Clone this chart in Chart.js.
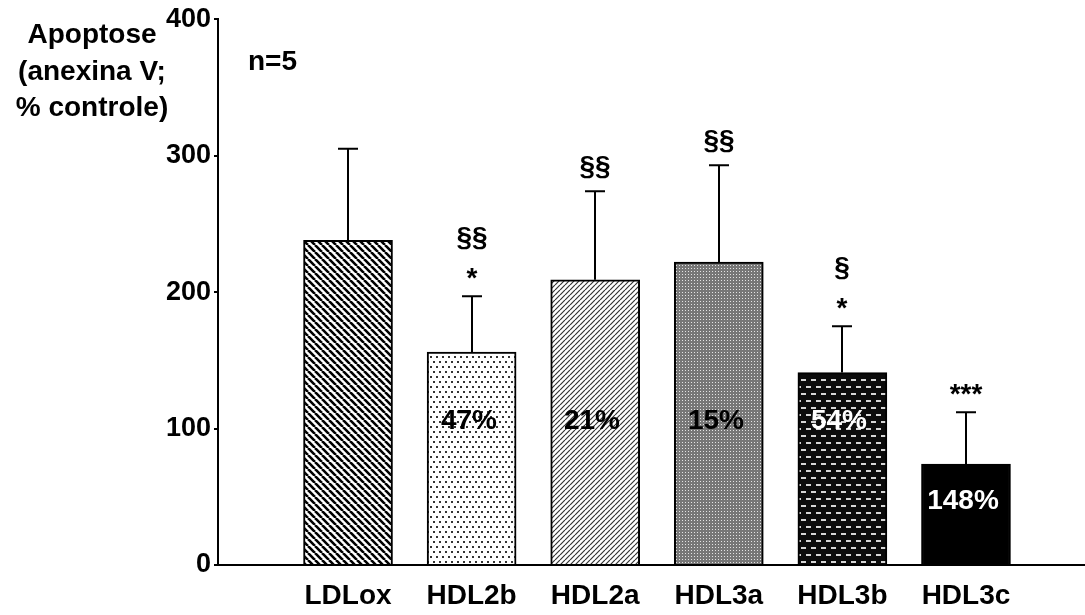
<!DOCTYPE html>
<html>
<head>
<meta charset="utf-8">
<script src="https://cdn.jsdelivr.net/npm/chart.js@4.4.1/dist/chart.umd.min.js"></script>
<style>
  html, body { margin: 0; padding: 0; background: #fff; }
  #wrap { width: 1085px; height: 615px; position: relative; }
</style>
</head>
<body>
<div id="wrap"><canvas id="c" width="1085" height="615"></canvas></div>
<script>
// Apoptosis (annexin V, % of control) per lipoprotein fraction, n=5
const categories = ['LDLox', 'HDL2b', 'HDL2a', 'HDL3a', 'HDL3b', 'HDL3c'];
const apoptosisMean = [238, 156, 209, 222, 141, 74];
const apoptosisSD = [67, 41, 65, 71, 34, 38];
const vsControlMarks = ['', '*', '', '', '*', '***'];
const vsLdloxMarks = ['', '§§', '§§', '§§', '§', ''];
const reductionLabels = ['', '47%', '21%', '15%', '54%', '148%'];
const yTicks = [0, 100, 200, 300, 400];
const titleLines = ['Apoptose', '(anexina V;', '% controle)'];
const sampleNote = 'n=5';

const FONT = 'bold 28px "Liberation Sans", Arial, sans-serif';

function tile(w, h, paint) {
  const c = document.createElement('canvas');
  c.width = w; c.height = h;
  const g = c.getContext('2d');
  g.fillStyle = '#fff';
  g.fillRect(0, 0, w, h);
  paint(g, w, h);
  return g.createPattern(c, 'repeat');
}

// bar fills: hatching / stipple textures
const barFills = [
  tile(7, 7, (g, w, h) => {            // heavy "\" hatching
    g.strokeStyle = '#000'; g.lineWidth = 2.6; g.beginPath();
    for (let k = -1; k <= 1; k++) { g.moveTo(k * w, 0); g.lineTo(k * w + w, h); }
    g.stroke();
  }),
  tile(6, 10, (g) => {                 // staggered dots
    g.fillStyle = '#333';
    g.fillRect(1, 1, 2, 2); g.fillRect(4, 6, 2, 2);
  }),
  tile(5, 5, (g, w, h) => {            // fine "/" hatching
    g.strokeStyle = '#333'; g.lineWidth = 1.2; g.beginPath();
    for (let k = -1; k <= 1; k++) { g.moveTo(k * w, h); g.lineTo(k * w + w, 0); }
    g.stroke();
  }),
  tile(3, 3, (g) => {                  // grey mesh
    g.fillStyle = '#777'; g.fillRect(0, 0, 3, 3);
    g.fillStyle = '#e4e4e4'; g.fillRect(1, 1, 1, 1);
  }),
  tile(10, 14, (g) => {                // dark brick of light dashes
    g.fillStyle = '#0c0c0c'; g.fillRect(0, 0, 10, 14);
    g.fillStyle = '#d6d6d6';
    g.fillRect(1, 1, 5, 2);
    g.fillRect(6, 8, 4, 2); g.fillRect(0, 8, 1, 2);
  }),
  '#000'                               // solid
];
const labelInk = ['#000', '#000', '#000', '#000', '#fff', '#fff'];
const LABEL_LEVEL = 105;

const annotate = {
  id: 'annotate',
  afterDatasetsDraw(chart) {
    const { ctx } = chart;
    const y = chart.scales.y;
    const bars = chart.getDatasetMeta(0).data;
    ctx.save();
    ctx.strokeStyle = '#000';
    ctx.fillStyle = '#000';
    ctx.lineWidth = 2;
    bars.forEach((bar, i) => {
      const x = Math.round(bar.x);
      const yTop = y.getPixelForValue(apoptosisMean[i]);
      const yCap = y.getPixelForValue(apoptosisMean[i] + apoptosisSD[i]);
      // upper error bar
      ctx.beginPath();
      ctx.moveTo(x, yTop); ctx.lineTo(x, yCap);
      ctx.moveTo(x - 10, yCap); ctx.lineTo(x + 10, yCap);
      ctx.stroke();

      // significance marks above the error bar
      ctx.font = FONT;
      ctx.textAlign = 'center';
      ctx.textBaseline = 'alphabetic';
      ctx.fillStyle = '#000';
      if (vsControlMarks[i]) {
        const base = yCap - 9;
        ctx.fillText(vsControlMarks[i], x, base);
        if (vsLdloxMarks[i]) ctx.fillText(vsLdloxMarks[i], x, base - 41);
      } else if (vsLdloxMarks[i]) {
        ctx.fillText(vsLdloxMarks[i], x, yCap - 16);
      }

      // reduction labels inside the bars
      if (reductionLabels[i]) {
        const v = Math.min(LABEL_LEVEL, apoptosisMean[i] - 27);
        ctx.fillStyle = labelInk[i];
        ctx.textBaseline = 'middle';
        ctx.fillText(reductionLabels[i], x - 3, y.getPixelForValue(v));
      }
    });

    // axis caption and sample size
    ctx.fillStyle = '#000';
    ctx.font = FONT;
    ctx.textAlign = 'center';
    ctx.textBaseline = 'alphabetic';
    const baselines = [43, 80, 116];
    titleLines.forEach((t, k) => ctx.fillText(t, 92, baselines[k]));
    ctx.textAlign = 'left';
    ctx.textBaseline = 'middle';
    ctx.fillText(sampleNote, 248, 62);
    ctx.restore();
  }
};

new Chart(document.getElementById('c'), {
  type: 'bar',
  data: {
    datasets: [{
      data: categories.map((c, i) => ({ x: i, y: apoptosisMean[i] })),
      backgroundColor: barFills,
      borderColor: '#000',
      borderWidth: 2,
      barThickness: 89
    }]
  },
  options: {
    responsive: false,
    animation: false,
    layout: { padding: { top: 16, left: 0, right: 0, bottom: 0 } },
    plugins: { legend: { display: false }, tooltip: { enabled: false } },
    scales: {
      x: {
        type: 'linear',
        offset: false,
        min: -1.052,
        max: 5.963,
        afterBuildTicks: (s) => { s.ticks = categories.map((c, i) => ({ value: i })); },
        afterFit: (s) => { s.height = 50; },
        grid: { display: false, drawTicks: false, offset: false },
        border: { display: true, color: '#000', width: 2 },
        ticks: {
          autoSkip: false, maxRotation: 0, padding: 14, color: '#000',
          font: { family: '"Liberation Sans", Arial, sans-serif', size: 28, weight: 'bold' },
          callback: (v) => categories[v]
        }
      },
      y: {
        min: 0,
        max: 400,
        afterBuildTicks: (s) => { s.ticks = yTicks.map(v => ({ value: v })); },
        afterFit: (s) => { s.width = 218; },
        grid: { display: true, drawOnChartArea: false, drawTicks: true, tickLength: 4, color: '#000', lineWidth: 2 },
        border: { display: true, color: '#000', width: 2 },
        ticks: {
          padding: 3, color: '#000',
          font: { family: '"Liberation Sans", Arial, sans-serif', size: 27, weight: 'bold' }
        }
      }
    }
  },
  plugins: [annotate]
});
</script>
</body>
</html>
